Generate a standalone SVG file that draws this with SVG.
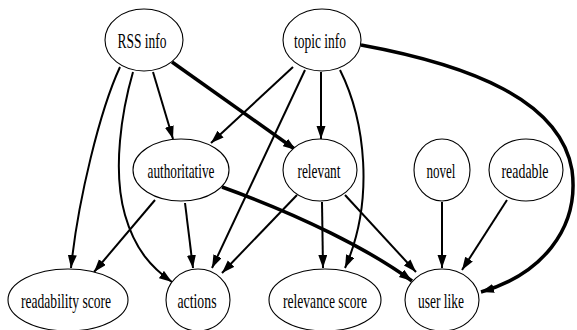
<svg xmlns="http://www.w3.org/2000/svg" width="577" height="330" viewBox="0 0 577 330">
<defs>
<marker id="ah" markerUnits="userSpaceOnUse" markerWidth="14" markerHeight="10" refX="13" refY="4.5" orient="auto">
<path d="M0,0 L13,4.5 L0,9 z" fill="#000"/>
</marker>
<style>
.n ellipse{fill:#fff;stroke:#000;stroke-width:1.1}
.n text{font-family:"Liberation Serif","Times New Roman",serif;font-size:21px;fill:#000;text-anchor:middle}
#edges path{fill:none;stroke:#000;stroke-width:2;marker-end:url(#ah)}
#edges path.thick{stroke-width:3.5}
</style>
</defs>
<rect width="577" height="330" fill="#fff"/>
<g id="edges">
<path d="M120,67 C100,110 78,200 71,268"/>
<path d="M133,72 C122,110 112,170 125,215 C135,250 152,268 172,282"/>
<path d="M153,72 L173,139"/>
<path class="thick" d="M172,62 L296,150"/>
<path d="M293,67 L211,143"/>
<path d="M305,70 L212,268"/>
<path d="M321,72 L321,139"/>
<path d="M340,70 C365,120 375,200 345,268"/>
<path class="thick" d="M361,45 C470,65 560,100 572,170 C580,230 540,275 481,292"/>
<path d="M155,200 L94,272"/>
<path d="M185,203 L193,268"/>
<path class="thick" d="M222,187 C300,215 370,250 412,281"/>
<path d="M297,195 L222,273"/>
<path d="M322,202 L323,268"/>
<path d="M345,195 L416,272"/>
<path d="M442,202 L442,268"/>
<path d="M507,200 L462,270"/>
</g>
<g id="rss" class="n"><ellipse cx="144" cy="40" rx="39" ry="31"/><text x="142" y="48" textLength="49" lengthAdjust="spacingAndGlyphs">RSS info</text></g>
<g id="topic" class="n"><ellipse cx="322" cy="40" rx="39" ry="31"/><text x="320" y="48" textLength="52" lengthAdjust="spacingAndGlyphs">topic info</text></g>
<g id="authoritative" class="n"><ellipse cx="181" cy="170" rx="48" ry="31"/><text x="181" y="178" textLength="67" lengthAdjust="spacingAndGlyphs">authoritative</text></g>
<g id="relevant" class="n"><ellipse cx="320" cy="170" rx="37" ry="31"/><text x="319" y="178" textLength="43" lengthAdjust="spacingAndGlyphs">relevant</text></g>
<g id="novel" class="n"><ellipse cx="442" cy="170" rx="28" ry="31"/><text x="441" y="178" textLength="29" lengthAdjust="spacingAndGlyphs">novel</text></g>
<g id="readable" class="n"><ellipse cx="526" cy="170" rx="37" ry="31"/><text x="525" y="178" textLength="47" lengthAdjust="spacingAndGlyphs">readable</text></g>
<g id="readability" class="n"><ellipse cx="68" cy="300" rx="60" ry="31"/><text x="66" y="308" textLength="90" lengthAdjust="spacingAndGlyphs">readability score</text></g>
<g id="actions" class="n"><ellipse cx="198" cy="300" rx="32" ry="31"/><text x="197" y="308" textLength="39" lengthAdjust="spacingAndGlyphs">actions</text></g>
<g id="relevancescore" class="n"><ellipse cx="325" cy="300" rx="56" ry="31"/><text x="325" y="308" textLength="84" lengthAdjust="spacingAndGlyphs">relevance score</text></g>
<g id="userlike" class="n"><ellipse cx="442" cy="300" rx="37" ry="31"/><text x="441" y="308" textLength="46" lengthAdjust="spacingAndGlyphs">user like</text></g>
</svg>
